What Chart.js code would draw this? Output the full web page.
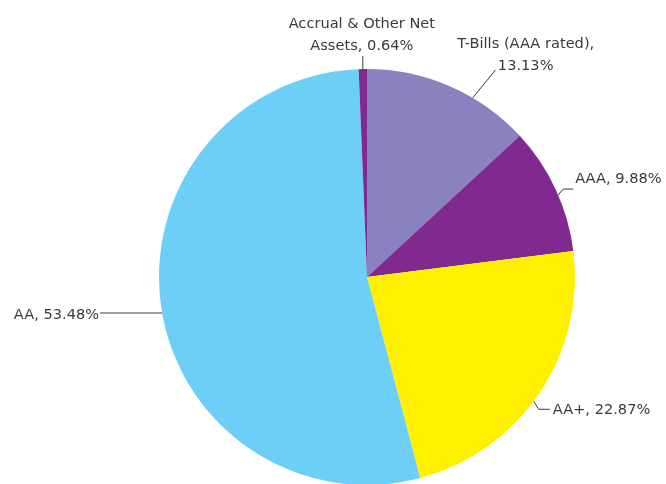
<!DOCTYPE html>
<html>
<head>
<meta charset="utf-8">
<script src="https://cdn.jsdelivr.net/npm/chart.js@4.4.1/dist/chart.umd.min.js"></script>
<style>
html,body{margin:0;padding:0;background:#fff;overflow:hidden;}
#wrap{width:666px;height:484px;overflow:hidden;}
</style>
</head>
<body>
<div id="wrap"><canvas id="ratingChart" width="666" height="500"></canvas></div>
<script>

// ======================================
// DATA
// ======================================

const ratings = ["T-Bills (AAA rated)", "AAA", "AA+", "AA", "Accrual & Other Net Assets"];

const shares = [13.13, 9.88, 22.87, 53.48, 0.64];

const sliceColors = ["#8982bf", "#80298f", "#fff000", "#6dcff6", "#80298f"];

// label text, split in lines
const labelLines = [
  ["T-Bills (AAA rated),", "13.13%"],
  ["AAA, 9.88%"],
  ["AA+, 22.87%"],
  ["AA, 53.48%"],
  ["Accrual & Other Net", "Assets, 0.64%"]
];

// ======================================
// LABEL LAYOUT (leader lines)
// ======================================

// shift of anchor from slice middle (deg), leader path offsets, text placement
const labelLayout = [
  {shift: 6.9,  path: [[23, -28]],         align: "center", dx: 30,  baselines: [-22, 0]},
  {shift: 1.75, path: [[5, -6], [10, 0]],  align: "left",   dx: 2,   baselines: [-6]},
  {shift: 2.7,  path: [[5, 8], [11, 0]],   align: "left",   dx: 3,   baselines: [5]},
  {shift: -1.4, path: [[-62, 0]],          align: "right",  dx: -1,  baselines: [5.5]},
  {shift: 0,    path: [[0, -13]],          align: "center", dx: -1,  baselines: [-28, -6]}
];

const leaderLabels = {
  id: "leaderLabels",
  afterDraw(chart){
    const ctx = chart.ctx;
    const arcs = chart.getDatasetMeta(0).data;
    ctx.save();
    ctx.font = "14.6px 'DejaVu Sans'";
    ctx.fillStyle = "#3a3a3a";
    ctx.strokeStyle = "#3a3a3a";
    ctx.lineWidth = 1;
    arcs.forEach((arc, i) => {
      const lay = labelLayout[i];
      const mid = (arc.startAngle + arc.endAngle) / 2 + lay.shift * Math.PI / 180;
      let x = arc.x + Math.cos(mid) * arc.outerRadius;
      let y = arc.y + Math.sin(mid) * arc.outerRadius;
      ctx.beginPath();
      ctx.moveTo(x, y);
      lay.path.forEach(p => {
        x += p[0];
        y += p[1];
        ctx.lineTo(x, y);
      });
      ctx.stroke();
      ctx.textAlign = lay.align;
      ctx.textBaseline = "alphabetic";
      labelLines[i].forEach((t, k) => {
        ctx.fillText(t, x + lay.dx, y + lay.baselines[k]);
      });
    });
    ctx.restore();
  }
};

// ======================================
// CHART
// ======================================

const ratingChart = new Chart(document.getElementById("ratingChart"), {
  type: "pie",
  data: {
    labels: ratings,
    datasets: [{
      data: shares,
      backgroundColor: sliceColors,
      borderWidth: 0,
      hoverOffset: 0
    }]
  },
  options: {
    responsive: false,
    animation: false,
    devicePixelRatio: 1,
    layout: {
      padding: {top: 69, bottom: 15, left: 159, right: 91}
    },
    plugins: {
      legend: {display: false},
      tooltip: {enabled: false}
    }
  },
  plugins: [leaderLabels]
});

</script>
</body>
</html>
